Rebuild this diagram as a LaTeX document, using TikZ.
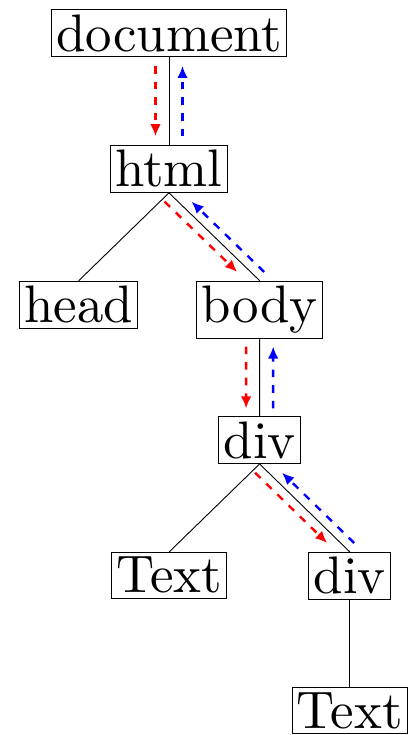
\documentclass[tikz,border=0pt]{standalone}
\usepackage{fontspec}
\newfontfamily\lmten{lmroman10-regular.otf}
\usetikzlibrary{calc,arrows.meta}
\tikzset{
  treenode/.style={draw, line width=0.5pt, inner sep=2.4pt, anchor=north,
    font=\lmten\fontsize{26.4}{30}\selectfont},
  treeedge/.style={line width=0.45pt},
  walkdown/.style={red, line width=1.2pt, dash pattern=on 3.8pt off 4pt,
    -{Latex[length=6pt,width=5.3pt]}},
  walkup/.style={blue, line width=1.2pt, dash pattern=on 3.8pt off 4pt,
    -{Latex[length=6pt,width=5.3pt]}}
}
\begin{document}
\begin{tikzpicture}[x=0.5pt,y=-0.5pt]
\useasboundingbox (0,0) rectangle (417,735);
\node[treenode] (doc) at (169,9.3) {document};
\node[treenode] (html) at (169,145) {html};
\node[treenode] (head) at (78.7,280.7) {head};
\node[treenode] (body) at (259.7,280.7) {body};
\node[treenode] (diva) at (259.6,416.1) {div};
\node[treenode] (texta) at (169.3,551.8) {Text};
\node[treenode] (divb) at (349.7,551.8) {div};
\node[treenode] (textb) at (349.7,687.3) {Text};

\draw[treeedge] (doc.south) -- (html.north);
\draw[treeedge] (html.south) -- (head.north);
\draw[treeedge] (html.south) -- (body.north);
\draw[treeedge] (body.south) -- (diva.north);
\draw[treeedge] (diva.south) -- (texta.north);
\draw[treeedge] (diva.south) -- (divb.north);
\draw[treeedge] (divb.south) -- (textb.north);

\foreach \p/\c in {doc/html, html/body, body/diva, diva/divb}{
  \draw[walkdown] ($(\p.south)!0.1!(\c.north)+(-13.5,0)$) -- ($(\p.south)!0.9!(\c.north)+(-13.5,0)$);
  \draw[walkup] ($(\p.south)!0.9!(\c.north)+(13.5,0)$) -- ($(\p.south)!0.1!(\c.north)+(13.5,0)$);
}
\end{tikzpicture}
\end{document}
